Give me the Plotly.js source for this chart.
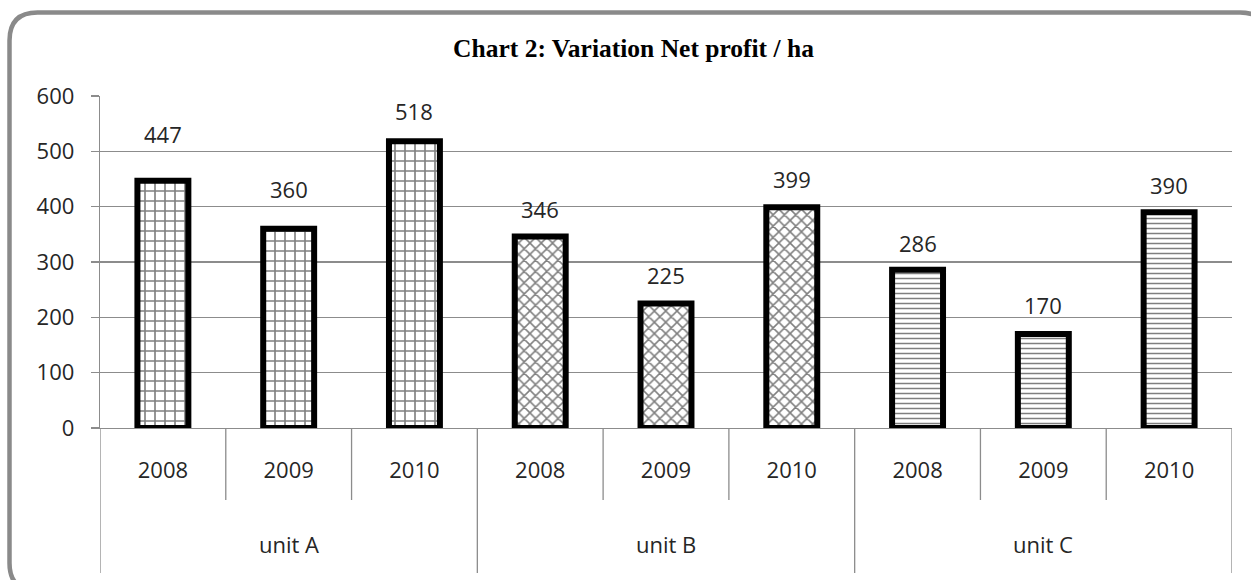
<!DOCTYPE html>
<html>
<head>
<meta charset="utf-8">
<script src="https://cdn.plot.ly/plotly-3.0.1.min.js"></script>
<style>html,body{margin:0;padding:0;background:#fff;}#chart{width:1251px;height:580px;}</style>
</head>
<body>
<div id="chart"></div>
<script>
// ---- data ----
const units = ["unit A", "unit A", "unit A", "unit B", "unit B", "unit B", "unit C", "unit C", "unit C"];
const years = ["2008", "2009", "2010", "2008", "2009", "2010", "2008", "2009", "2010"];
const netProfit = [447, 360, 518, 346, 225, 399, 286, 170, 390];
const unitNames = ["unit A", "unit B", "unit C"];
const yTicks = [0, 100, 200, 300, 400, 500, 600];

// ---- styling ----
const patternByUnit = {"unit A": "+", "unit B": "x", "unit C": "-"};
const patternSize = {"unit A": 10, "unit B": 8, "unit C": 5};
const patternSolidity = {"unit A": 0.3, "unit B": 0.35, "unit C": 0.3};
const labelLift = [30, 23, 13, 11, 12, 11, 10, 12, 10];
const FONT = "Open Sans";
const GRID = "#8c8c8c";

const cats = units.map((u, i) => u + " " + years[i]);

const trace = {
  type: "bar",
  x: cats,
  y: netProfit,
  marker: {
    color: "#ffffff",
    line: {color: "#000000", width: 6},
    pattern: {
      shape: units.map(u => patternByUnit[u]),
      size: units.map(u => patternSize[u]),
      solidity: units.map(u => patternSolidity[u]),
      fgcolor: "#000000",
      bgcolor: "#ffffff",
      fillmode: "overlay"
    }
  },
  hoverinfo: "x+y",
  cliponaxis: false
};

// plot-area geometry helpers (paper fractions)
const L = 100, R = 19, T = 96, B = 152, W = 1251, H = 580;
const pw = W - L - R, ph = H - T - B;
const px = v => (v - L) / pw;
const py = v => (H - B - v) / ph;

const annotations = [];
netProfit.forEach((v, i) => {
  annotations.push({
    xref: "x", yref: "y", x: cats[i], y: v,
    text: String(v), showarrow: false,
    yanchor: "bottom", yshift: labelLift[i],
    font: {family: FONT, size: 22, color: "#262626"}
  });
});
unitNames.forEach((u, g) => {
  annotations.push({
    xref: "x", yref: "paper", x: g * 3 + 1, y: py(544),
    text: u, showarrow: false, yanchor: "middle", xanchor: "center",
    font: {family: FONT, size: 22, color: "#262626"}
  });
});

const shapes = [];
// dividers between years (full height between units)
for (let i = 0; i < cats.length - 1; i++) {
  const full = (i + 1) % 3 === 0;
  shapes.push({type: "line", xref: "x", yref: "paper", x0: i + 0.5, x1: i + 0.5,
    y0: 0, y1: full ? py(573) : py(500), line: {color: GRID, width: 1.3}});
}
// outer edges
[-0.5, cats.length - 0.5].forEach(xv => {
  shapes.push({type: "line", xref: "x", yref: "paper", x0: xv, x1: xv,
    y0: 0, y1: py(573), line: {color: GRID, width: 1.3}});
});
// rounded frame
const fx0 = px(9.5), fx1 = px(1268), fyT = py(12.5), fyB = py(591);
const rx = 28 / pw, ry = 28 / ph;
const framePath = `M ${fx0 + rx},${fyT} L ${fx1 - rx},${fyT} Q ${fx1},${fyT} ${fx1},${fyT - ry} ` +
  `L ${fx1},${fyB + ry} Q ${fx1},${fyB} ${fx1 - rx},${fyB} L ${fx0 + rx},${fyB} ` +
  `Q ${fx0},${fyB} ${fx0},${fyB + ry} L ${fx0},${fyT - ry} Q ${fx0},${fyT} ${fx0 + rx},${fyT} Z`;
shapes.push({type: "path", xref: "paper", yref: "paper", path: framePath,
  line: {color: "#8a8a8a", width: 4.5}, fillcolor: "rgba(0,0,0,0)", layer: "above"});

const layout = {
  width: W, height: H,
  margin: {l: L, r: R, t: T, b: B, pad: 0},
  paper_bgcolor: "#ffffff",
  plot_bgcolor: "#ffffff",
  showlegend: false,
  bargap: 0.595,
  title: {
    text: "Chart 2: Variation Net profit / ha",
    font: {family: "Liberation Serif", size: 25.5, color: "#000000", weight: "bold"},
    xref: "paper", x: px(633.5), xanchor: "center",
    yref: "container", y: 1 - 48 / H, yanchor: "middle"
  },
  xaxis: {
    type: "category",
    tickvals: cats,
    ticktext: years,
    showgrid: false,
    showline: true, linecolor: GRID, linewidth: 1.3,
    ticks: "",
    ticklabelstandoff: 22,
    tickfont: {family: FONT, size: 22, color: "#262626"},
    range: [-0.5, cats.length - 0.5],
    fixedrange: true
  },
  yaxis: {
    range: [0, 600],
    tickvals: yTicks,
    ticktext: yTicks.map(String),
    showgrid: true, gridcolor: GRID, gridwidth: 1.1,
    zeroline: false,
    showline: true, linecolor: GRID, linewidth: 1.3,
    ticks: "outside", ticklen: 8, tickcolor: GRID, tickwidth: 1.3,
    ticklabelstandoff: 12,
    tickfont: {family: FONT, size: 22, color: "#262626"},
    fixedrange: true
  },
  annotations: annotations,
  shapes: shapes
};

Plotly.newPlot("chart", [trace], layout, {displayModeBar: false, staticPlot: true});
</script>
</body>
</html>
